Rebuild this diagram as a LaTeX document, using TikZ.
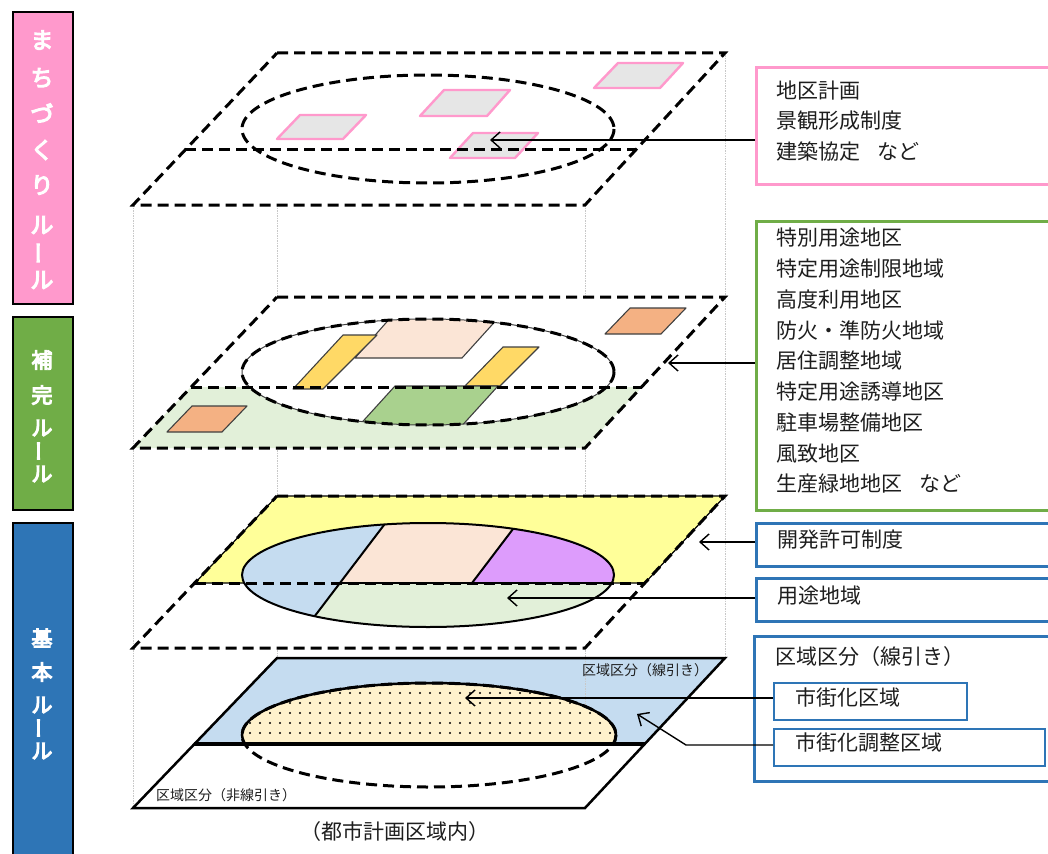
\documentclass[tikz,border=0pt]{standalone}
\usepackage{fontspec}
\setmainfont{Noto Sans CJK JP}
\newcommand\heavytext[1]{\special{pdf:literal direct 2 Tr 1.1 w}#1\special{pdf:literal direct 0 Tr 0.4 w}}
\usetikzlibrary{arrows.meta,patterns.meta,calc}
\definecolor{pinkc}{HTML}{FF99CC}
\definecolor{greenc}{HTML}{70AD47}
\definecolor{bluec}{HTML}{2E75B6}
\definecolor{grayfill}{HTML}{E6E6E6}
\definecolor{bandgreen}{HTML}{E2F0D9}
\definecolor{peach}{HTML}{FBE5D6}
\definecolor{stripey}{HTML}{FFD966}
\definecolor{midgreen}{HTML}{A9D18E}
\definecolor{orangec}{HTML}{F4B183}
\definecolor{layeryellow}{HTML}{FFFF99}
\definecolor{lightblue}{HTML}{C5DCF0}
\definecolor{purplec}{HTML}{DD9CFC}
\definecolor{creamc}{HTML}{FFF2CC}
\definecolor{outl}{HTML}{404040}
\definecolor{txt}{HTML}{1E1E1E}
\definecolor{guidec}{HTML}{C8C8C8}
\begin{document}
\begin{tikzpicture}[x=1pt,y=-1pt,
  dashedge/.style={line width=3pt, dash pattern=on 11pt off 6pt, black},
  guide/.style={line width=1pt, guidec, dash pattern=on 1.5pt off 1pt},
  pinkshape/.style={fill=grayfill, draw=pinkc, line width=2.4pt, line join=round},
  subshape/.style={draw=outl, line width=1.1pt, line join=round},
  arr/.style={line width=1.4pt, black, -{Straight Barb[length=9pt,width=16pt,line width=1.4pt]}},
  lbox/.style={draw=black, line width=2pt, anchor=north west, inner sep=0pt},
  lchar/.style={text=white, inner sep=0pt},
  rbox/.style={line width=3pt, anchor=north west, inner sep=0pt},
  ibox/.style={draw=bluec, line width=2pt, anchor=north west, inner sep=0pt},
  rtext/.style={text=txt, font=\fontsize{21}{30.75}\selectfont, align=left, anchor=west, inner sep=0pt},
  stext/.style={text=txt, font=\fontsize{14}{16}\selectfont, anchor=west, inner sep=0pt}
]
\useasboundingbox (0,0) rectangle (1048,853);
\clip (0,0) rectangle (1048,853);
\fill[white] (0,0) rectangle (1048,853);

% ---------- left labels ----------
\node[lbox, fill=pinkc, minimum width=60pt, minimum height=292pt] (lpink) at (12,11) {};
\foreach \c/\y/\r [count=\i] in {ま/40/0, ち/78/0, づ/113/0, く/150/0, り/185/0, ル/225/0, ー/253/90, ル/280/0}
  \node[lchar, rotate=\r] (lp\i) at (42,\y) {\fontsize{23}{23}\selectfont\heavytext{\c}};
\node[lbox, fill=greenc, minimum width=60pt, minimum height=193pt] (lgreen) at (12,316) {};
\foreach \c/\y/\r [count=\i] in {補/360/0, 完/395/0, ル/428/0, ー/451/90, ル/474/0}
  \node[lchar, rotate=\r] (lg\i) at (42,\y) {\fontsize{21}{21}\selectfont\heavytext{\c}};
\node[lbox, fill=bluec, minimum width=60pt, minimum height=350pt] (lblue) at (12,522) {};
\foreach \c/\y/\r [count=\i] in {基/638/0, 本/672/0, ル/705/0, ー/728/90, ル/751/0}
  \node[lchar, rotate=\r] (lb\i) at (42,\y) {\fontsize{21}{21}\selectfont\heavytext{\c}};

% ---------- guide lines ----------
\draw[guide] (133,205) -- (133,808);
\draw[guide] (277,205) -- (277,658);
\draw[guide] (585,205) -- (585,658);
\draw[guide] (725,53) -- (725,658);

% ---------- layer 1 ----------
\fill[white] (277,53) -- (725,53) -- (585,205) -- (133,205) -- cycle;
\draw[pinkshape] (300,115) -- (366,115) -- (343,139) -- (277,139) -- cycle;
\draw[pinkshape] (444,90) -- (510,90) -- (487,116) -- (420,116) -- cycle;
\draw[pinkshape] (618,63) -- (683,63) -- (660,88) -- (594,88) -- cycle;
\draw[pinkshape] (473,133) -- (538,133) -- (515,158) -- (450,158) -- cycle;
\draw[dashedge] (428,129) ellipse [x radius=186, y radius=54];
\draw[dashedge] (185,150) -- (636,150);
\draw[dashedge] (277,53) -- (725,53) -- (585,205) -- (133,205) -- cycle;

% ---------- layer 2 ----------
\fill[white] (277,297) -- (725,297) -- (585,448) -- (133,448) -- cycle;
\fill[bandgreen] (191,387) -- (642,387) -- (585,448) -- (133,448) -- cycle;
\draw[subshape, fill=orangec] (630,308) -- (686,308) -- (661,334) -- (605,334) -- cycle;
\draw[subshape, fill=orangec] (192,406) -- (247,406) -- (222,432) -- (167,432) -- cycle;
\fill[white] (428,372) ellipse [x radius=186, y radius=53];
\begin{scope}
  \clip (428,372) ellipse [x radius=186, y radius=53];
  \draw[subshape, fill=peach] (392,316) -- (500,316) -- (462,358) -- (355,358) -- cycle;
  \draw[subshape, fill=stripey] (343,335) -- (377,335) -- (323,389) -- (293,389) -- cycle;
  \draw[subshape, fill=stripey] (503,347) -- (539,347) -- (500,386) -- (465,386) -- cycle;
  \draw[subshape, fill=midgreen] (395,386) -- (498,386) -- (458,430) -- (355,430) -- cycle;
\end{scope}
\draw[line width=1pt, outl] (428,372) ellipse [x radius=186, y radius=53];
\draw[dashedge] (428,372) ellipse [x radius=186, y radius=53];
\draw[dashedge] (191,387) -- (642,387);
\draw[dashedge] (277,297) -- (725,297) -- (585,448) -- (133,448) -- cycle;

% ---------- layer 3 ----------
\fill[white] (277,496) -- (725,496) -- (585,648) -- (133,648) -- cycle;
\filldraw[fill=layeryellow, draw=black, line width=1.2pt] (277,496) -- (725,496) -- (645,583) -- (195,583) -- cycle;
\begin{scope}
  \clip (428,575) ellipse [x radius=186, y radius=52];
  \fill[lightblue] (200,500) -- (403,500) -- (289,650) -- (200,650) -- cycle;
  \fill[peach] (403,500) -- (535,500) -- (472,583) -- (340,583) -- cycle;
  \fill[purplec] (535,500) -- (700,500) -- (700,583) -- (472,583) -- cycle;
  \fill[bandgreen] (340,583) -- (700,583) -- (700,650) -- (289,650) -- cycle;
  \draw[line width=2pt] (403,500) -- (289,650);
  \draw[line width=2pt] (535,500) -- (472,583);
  \draw[line width=2.2pt] (340,583) -- (640,583);
\end{scope}
\draw[line width=2pt] (428,575) ellipse [x radius=186, y radius=52];
\draw[dashedge] (195,583) -- (645,583);
\draw[dashedge] (277,496) -- (725,496) -- (585,648) -- (133,648) -- cycle;

% ---------- layer 4 ----------
\fill[white] (277,658) -- (725,658) -- (585,808) -- (133,808) -- cycle;
\fill[lightblue] (277,658) -- (725,658) -- (645,744) -- (194,744) -- cycle;
\draw[guide] (585,658) -- (585,712);
\begin{scope}
  \clip (0,0) rectangle (1048,744);
  \fill[creamc] (429,735) ellipse [x radius=187, y radius=52];
  \fill[pattern={Dots[radius=1.1pt,distance=10pt]}, pattern color=black] (429,735) ellipse [x radius=187, y radius=52];
  \draw[line width=2.5pt] (429,735) ellipse [x radius=187, y radius=52];
  \draw[dashedge] (429,735) ellipse [x radius=187, y radius=52];
\end{scope}
\begin{scope}
  \clip (0,746) rectangle (1048,853);
  \draw[dashedge] (429,735) ellipse [x radius=187, y radius=52];
\end{scope}
\draw[line width=2.5pt, line join=miter] (277,658) -- (725,658) -- (585,808) -- (133,808) -- cycle;
\draw[line width=4pt] (194,744) -- (645,744);
\node[stext] (senbiki) at (582,670) {区域区分（線引き）};
\node[stext] (hisenbiki) at (156,795) {区域区分（非線引き）};
\node[text=txt, font=\fontsize{21}{24}\selectfont, inner sep=0pt] (toshi) at (395,832) {（都市計画区域内）};

% ---------- right boxes ----------
\node[rbox, draw=pinkc, minimum width=310pt, minimum height=117pt] (pbox) at (755,66) {};
\node[rtext] (ptext) at (776,121) {地区計画\\景観形成制度\\建築協定\hspace{0.8em}など};
\node[rbox, draw=greenc, minimum width=310pt, minimum height=289pt] (gbox) at (755,220) {};
\node[rtext] (gtext) at (776,361) {特別用途地区\\特定用途制限地域\\高度利用地区\\防火・準防火地域\\居住調整地域\\特定用途誘導地区\\駐車場整備地区\\風致地区\\生産緑地地区\hspace{0.8em}など};
\node[rbox, draw=bluec, minimum width=310pt, minimum height=43pt] (kbox) at (755,522) {};
\node[rtext] (ktext) at (777,540) {開発許可制度};
\node[rbox, draw=bluec, minimum width=310pt, minimum height=43pt] (ybox) at (755,577) {};
\node[rtext] (ytext) at (777,596) {用途地域};
\node[rbox, draw=bluec, minimum width=310pt, minimum height=145pt] (bbox) at (753,635) {};
\node[rtext] (btext) at (775,657) {区域区分（線引き）};
\node[ibox, minimum width=193pt, minimum height=37pt] (i1) at (773,682) {};
\node[rtext] (i1text) at (795,697) {市街化区域};
\node[ibox, minimum width=271pt, minimum height=37pt] (i2) at (773,728) {};
\node[rtext] (i2text) at (795,743) {市街化調整区域};

% ---------- connectors ----------
\coordinate (t1) at (490,140);
\coordinate (t2) at (668,363);
\coordinate (t3) at (699,542);
\coordinate (t4) at (507,598);
\coordinate (t5) at (465,698);
\coordinate (b6) at (686,745);
\coordinate (t6) at (637,714);
\draw[arr] (pbox.west |- t1) -- (t1);
\draw[arr] (gbox.west |- t2) -- (t2);
\draw[arr] (kbox.west |- t3) -- (t3);
\draw[arr] (ybox.west |- t4) -- (t4);
\draw[arr] (i1.west |- t5) -- (t5);
\draw[arr] (i2.west |- b6) -- (b6) -- (t6);
\end{tikzpicture}
\end{document}
